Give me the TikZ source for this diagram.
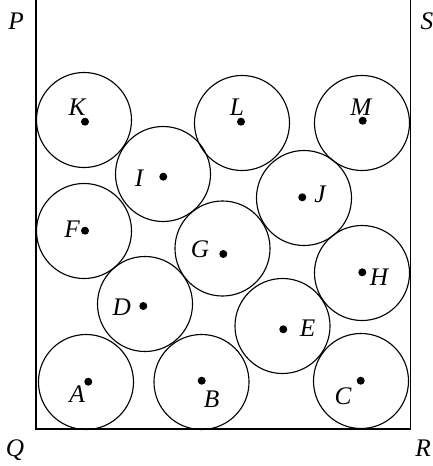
\documentclass[tikz,border=0pt]{standalone}
\usepackage{fontspec}
\setmainfont{Liberation Serif}
\usetikzlibrary{positioning}

\begin{document}
\begin{tikzpicture}[
  x=0.025cm, y=-0.025cm, line width=0.8pt,
  font=\fontsize{18}{20}\selectfont\itshape,
  ball/.style={circle,draw,minimum size=2.375cm,inner sep=0pt},
  centre/.style={circle,fill,minimum size=0.2cm,inner sep=0pt},
  tag/.style={inner sep=0pt},
]
\useasboundingbox (0,0) rectangle (433,466);
% --- the container (open at the top) ---
\coordinate (p) at (36,0);
\coordinate (q) at (36,429);
\coordinate (r) at (410.5,429);
\coordinate (s) at (410.5,0);
\draw[line width=1pt] (p) -- (q) -- (r) -- (s);
\node[tag] (lp) at (16,21)  {P};
\node[tag] (ls) at (427,21) {S};
\node[tag] (lq) at (15,450) {Q};
\node[tag] (lr) at (423,448) {R};

% --- the balls: name / circle centre / dot / label ---
\foreach \n/\cx/\cy/\dx/\dy/\lx/\ly in {
  K/84/120/85/121.7/77/107,
  L/242/123/241/121.7/237/107,
  M/362/123/362.7/120.7/361/107,
  I/163/174/163.3/176.7/139/178,
  J/304/198/302.3/197.3/320/194,
  F/84/231/85/230.7/72/229,
  G/222.5/248.5/223.3/254/200/249,
  H/362/273/362.3/272.3/379/277,
  D/145/304/143.3/306/121.7/307,
  E/282.5/326/283.3/329.3/307.7/328,
  A/86/382/88.3/381.7/77/394,
  B/201.5/382/201.7/380.7/211.7/399,
  C/361/381/360.7/380.7/343/396}{
  \node[ball]   (ball\n) at (\cx,\cy) {};
  \node[centre] (dot\n)  at (\dx,\dy) {};
  \node[tag]    (lab\n)  at (\lx,\ly) {\n};
}
\end{tikzpicture}
\end{document}
